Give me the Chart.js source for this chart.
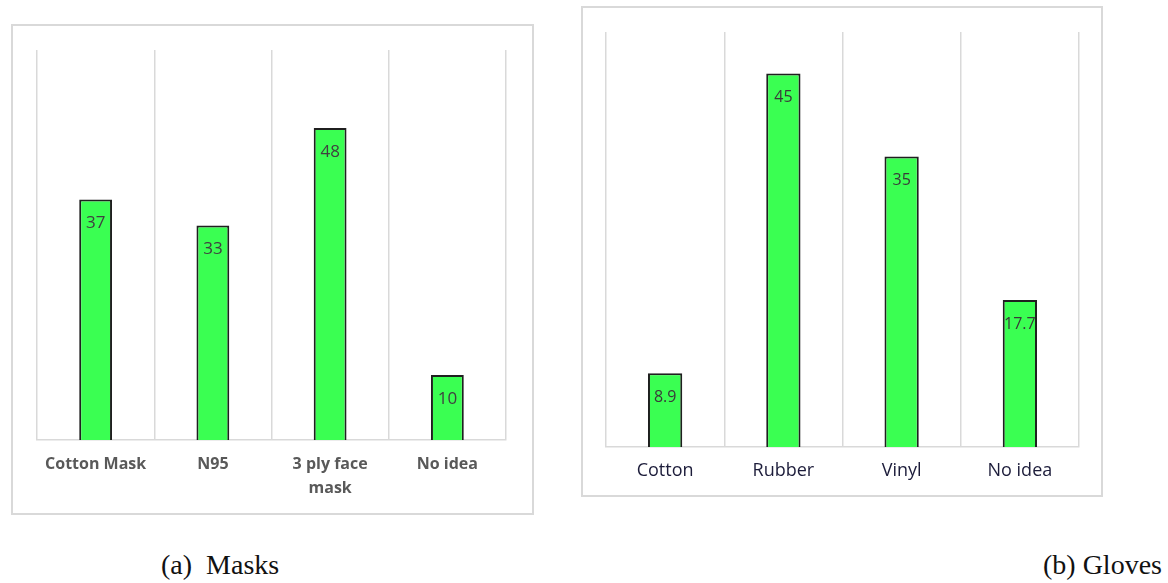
<!DOCTYPE html>
<html>
<head>
<meta charset="utf-8">
<title>Masks and Gloves</title>
<script src="https://cdn.jsdelivr.net/npm/chart.js@4.4.1/dist/chart.umd.min.js"></script>
<style>
    body {
        margin: 0;
        background: #ffffff;
        width: 1168px;
        height: 583px;
        position: relative;
        overflow: hidden;
    }
    canvas {
        position: absolute;
    }
    #masksChart {
        left: 11px;
        top: 24px;
    }
    #glovesChart {
        left: 581px;
        top: 6px;
    }
    .caption {
        position: absolute;
        font-family: "Liberation Serif", "Times New Roman", serif;
        font-size: 28px;
        line-height: 32px;
        color: #111111;
        white-space: pre;
    }
</style>
</head>
<body>
<canvas id="masksChart" width="523" height="491"></canvas>
<canvas id="glovesChart" width="522" height="491"></canvas>
<div class="caption" style="left: 161px; top: 549px;">(a)  Masks</div>
<div class="caption" style="left: 1043px; top: 549px;">(b) Gloves</div>

<script>
const maskLabels = ['Cotton Mask', 'N95', ['3 ply face', 'mask'], 'No idea'];
const maskValues = [37, 33, 48, 10];
const maskMax = 60;

const gloveLabels = ['Cotton', 'Rubber', 'Vinyl', 'No idea'];
const gloveValues = [8.9, 45, 35, 17.7];
const gloveMax = 50;

const barGreen = '#3aff52';
const barEdge = '#1f1f1f';
const gridGrey = '#d9d9d9';

// light grey frame around each chart
const panelBorder = {
    id: 'panelBorder',
    beforeDraw(chart) {
        const ctx = chart.ctx;
        ctx.save();
        ctx.strokeStyle = gridGrey;
        ctx.lineWidth = 2;
        ctx.strokeRect(1, 1, chart.width - 2, chart.height - 2);
        ctx.restore();
    }
};

// value printed just under the top of each bar
const barValues = {
    id: 'barValues',
    afterDatasetsDraw(chart, args, opts) {
        const ctx = chart.ctx;
        const meta = chart.getDatasetMeta(0);
        const data = chart.data.datasets[0].data;
        ctx.save();
        ctx.font = opts.font;
        ctx.fillStyle = opts.color;
        ctx.textAlign = 'center';
        ctx.textBaseline = 'middle';
        meta.data.forEach(function(bar, i) {
            ctx.fillText(String(data[i]), bar.x, bar.y + opts.offset);
        });
        ctx.restore();
    }
};

function renderMasksChart() {
    const ctx = document.getElementById('masksChart').getContext('2d');
    new Chart(ctx, {
        type: 'bar',
        data: {
            labels: maskLabels,
            datasets: [{
                data: maskValues,
                backgroundColor: barGreen,
                borderColor: barEdge,
                borderWidth: 2,
                barPercentage: 0.28,
                categoryPercentage: 1
            }]
        },
        options: {
            responsive: false,
            animation: false,
            layout: {
                padding: { left: 26, right: 28, top: 26, bottom: 0 }
            },
            scales: {
                x: {
                    grid: {
                        color: gridGrey,
                        lineWidth: 1.5,
                        drawTicks: false
                    },
                    border: {
                        color: gridGrey,
                        width: 1.5
                    },
                    ticks: {
                        padding: 12,
                        color: '#595959',
                        font: {
                            family: '"Open Sans", sans-serif',
                            size: 16,
                            weight: 'bold',
                            lineHeight: 1.5
                        },
                        maxRotation: 0
                    },
                    afterFit: function(scale) {
                        scale.height = 75;
                    }
                },
                y: {
                    display: false,
                    min: 0,
                    max: maskMax
                }
            },
            plugins: {
                legend: { display: false },
                tooltip: { enabled: false },
                barValues: {
                    font: '17px "Open Sans", sans-serif',
                    color: '#404040',
                    offset: 24
                }
            }
        },
        plugins: [panelBorder, barValues]
    });
}

function renderGlovesChart() {
    const ctx = document.getElementById('glovesChart').getContext('2d');
    new Chart(ctx, {
        type: 'bar',
        data: {
            labels: gloveLabels,
            datasets: [{
                data: gloveValues,
                backgroundColor: barGreen,
                borderColor: barEdge,
                borderWidth: 2,
                barPercentage: 0.29,
                categoryPercentage: 1
            }]
        },
        options: {
            responsive: false,
            animation: false,
            layout: {
                padding: { left: 25, right: 24, top: 26, bottom: 0 }
            },
            scales: {
                x: {
                    grid: {
                        color: gridGrey,
                        lineWidth: 1.5,
                        drawTicks: false
                    },
                    border: {
                        color: gridGrey,
                        width: 1.5
                    },
                    ticks: {
                        padding: 13,
                        color: '#1c1c3a',
                        font: {
                            family: '"Open Sans", sans-serif',
                            size: 18,
                            lineHeight: 1.2
                        },
                        maxRotation: 0
                    },
                    afterFit: function(scale) {
                        scale.height = 50;
                    }
                },
                y: {
                    display: false,
                    min: 0,
                    max: gloveMax
                }
            },
            plugins: {
                legend: { display: false },
                tooltip: { enabled: false },
                barValues: {
                    font: '16px "Open Sans", sans-serif',
                    color: '#3a3a3a',
                    offset: 24
                }
            }
        },
        plugins: [panelBorder, barValues]
    });
}

document.addEventListener('DOMContentLoaded', function() {
    renderMasksChart();
    renderGlovesChart();
});
</script>
</body>
</html>
